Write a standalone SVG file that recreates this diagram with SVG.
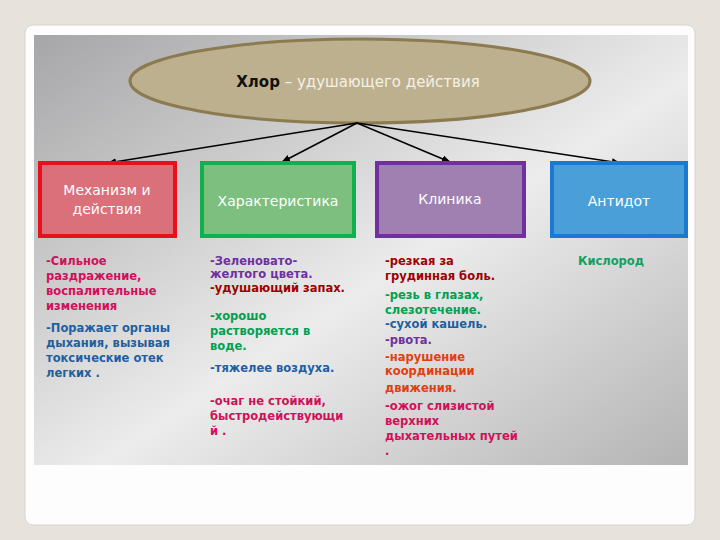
<svg xmlns="http://www.w3.org/2000/svg" width="720" height="540" viewBox="0 0 720 540">
<defs>
<linearGradient id="bg" x1="0" y1="0" x2="1" y2="1">
<stop offset="0" stop-color="#a6a6a8"/><stop offset="0.55" stop-color="#ececec"/><stop offset="1" stop-color="#b4b4b4"/>
</linearGradient>
<marker id="ah" viewBox="0 0 10 10" refX="9" refY="5" markerWidth="6" markerHeight="6" orient="auto"><path d="M0,1 L10,5 L0,9 z" fill="#000"/></marker>
<style>
.t{font-family:"DejaVu Sans",sans-serif;font-size:11.5px;font-weight:bold}
.h{font-family:"DejaVu Sans",sans-serif;font-size:14px;fill:#fff;text-anchor:middle}
.c{stroke:#000;stroke-width:1.5;fill:none;marker-end:url(#ah)}
</style>
</defs>
<rect width="720" height="540" fill="#e7e2db"/>
<rect x="25" y="25" width="670" height="500" rx="8" fill="#fdfdfd" stroke="#d8d4ce"/>
<rect x="34" y="35" width="654" height="430" fill="url(#bg)"/>
<g id="title">
<ellipse cx="360" cy="81" rx="230" ry="42" fill="#bdb08e" stroke="#8c7a50" stroke-width="3"/>
<text x="358" y="87" font-family="DejaVu Sans,sans-serif" font-size="15" text-anchor="middle" fill="#f4f0e6"><tspan font-weight="bold" fill="#111">Хлор</tspan> – удушающего действия</text>
</g>
<g id="connectors">
<line class="c" x1="357" y1="123" x2="108" y2="163"/>
<line class="c" x1="357" y1="123" x2="282" y2="162"/>
<line class="c" x1="357" y1="123" x2="450" y2="162"/>
<line class="c" x1="357" y1="123" x2="620" y2="163"/>
</g>
<g id="mech">
<rect x="40" y="163" width="135" height="73" fill="#d9707a" stroke="#e8101c" stroke-width="4"/>
<text class="h" x="107" y="195">Механизм и</text>
<text class="h" x="107" y="214">действия</text>
<text class="t" fill="#d0105a"><tspan x="46" y="265">-Сильное</tspan><tspan x="46" y="280">раздражение,</tspan><tspan x="46" y="295">воспалительные</tspan><tspan x="46" y="310">изменения</tspan></text>
<text class="t" fill="#1f5fa0"><tspan x="46" y="332">-Поражает органы</tspan><tspan x="46" y="347">дыхания, вызывая</tspan><tspan x="46" y="362">токсические отек</tspan><tspan x="46" y="377">легких .</tspan></text>
</g>
<g id="char">
<rect x="202" y="163" width="152" height="73" fill="#7cbf7e" stroke="#10b050" stroke-width="4"/>
<text class="h" x="278" y="206">Характеристика</text>
<text class="t"><tspan x="210" y="265" fill="#7030a0">-Зеленовато-</tspan><tspan x="210" y="278" fill="#7030a0">желтого цвета.</tspan><tspan x="210" y="292" fill="#a00000">-удушающий запах.</tspan><tspan x="210" y="320" fill="#00a050">-хорошо</tspan><tspan x="210" y="335" fill="#00a050">растворяется в</tspan><tspan x="210" y="350" fill="#00a050">воде.</tspan><tspan x="210" y="372" fill="#1f5fa0">-тяжелее воздуха.</tspan><tspan x="210" y="405" fill="#d0105a">-очаг не стойкий,</tspan><tspan x="210" y="420" fill="#d0105a">быстродействующи</tspan><tspan x="210" y="435" fill="#d0105a">й .</tspan></text>
</g>
<g id="clin">
<rect x="377" y="163" width="147" height="73" fill="#9f80b0" stroke="#7030a0" stroke-width="4"/>
<text class="h" x="450" y="204">Клиника</text>
<text class="t"><tspan x="385" y="265" fill="#a00000">-резкая за</tspan><tspan x="385" y="280" fill="#a00000">грудинная боль.</tspan><tspan x="385" y="299" fill="#00a050">-резь в глазах,</tspan><tspan x="385" y="314" fill="#00a050">слезотечение.</tspan><tspan x="385" y="328" fill="#1f5fa0">-сухой кашель.</tspan><tspan x="385" y="344" fill="#7030a0">-рвота.</tspan><tspan x="385" y="361" fill="#e04010">-нарушение</tspan><tspan x="385" y="375" fill="#e04010">координации</tspan><tspan x="385" y="392" fill="#e04010">движения.</tspan><tspan x="385" y="410" fill="#d0105a">-ожог слизистой</tspan><tspan x="385" y="425" fill="#d0105a">верхних</tspan><tspan x="385" y="440" fill="#d0105a">дыхательных путей</tspan><tspan x="385" y="455" fill="#d0105a">.</tspan></text>
</g>
<g id="antidote">
<rect x="552" y="163" width="134" height="73" fill="#4a9fd8" stroke="#1a7ad0" stroke-width="4"/>
<text class="h" x="619" y="206">Антидот</text>
<text class="t" x="578" y="265" fill="#10a060" font-size="13">Кислород</text>
</g>
</svg>
